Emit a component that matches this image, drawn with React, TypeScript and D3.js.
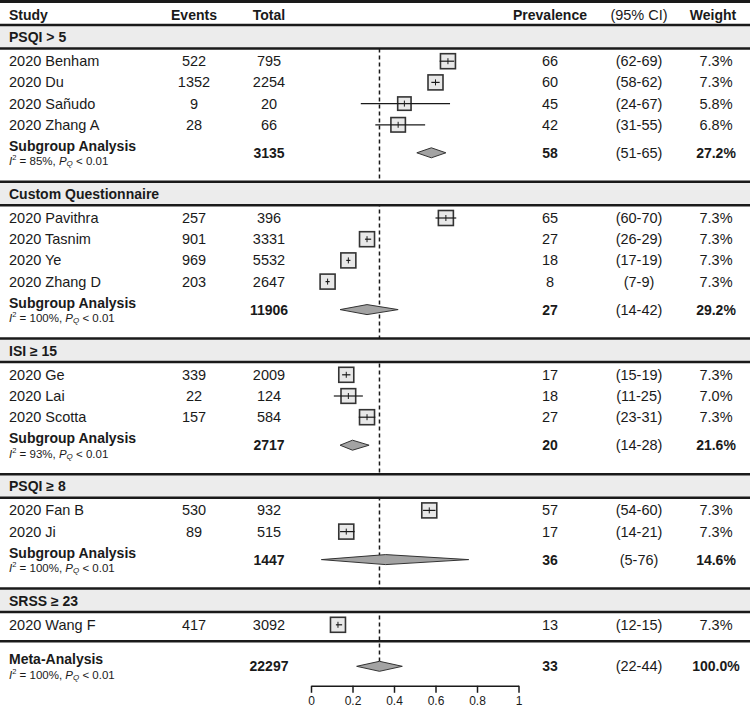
import React, { useEffect, useRef } from "react";
import * as d3 from "d3";

// data
const groupNames = ["PSQI > 5", "Custom Questionnaire", "ISI ≥ 15", "PSQI ≥ 8", "SRSS ≥ 23"];

const studyNames = [
  "2020 Benham", "2020 Du", "2020 Sañudo", "2020 Zhang A",
  "2020 Pavithra", "2020 Tasnim", "2020 Ye", "2020 Zhang D",
  "2020 Ge", "2020 Lai", "2020 Scotta",
  "2020 Fan B", "2020 Ji",
  "2020 Wang F",
];
const studyGroup = [0, 0, 0, 0, 1, 1, 1, 1, 2, 2, 2, 3, 3, 4];
const events = [522, 1352, 9, 28, 257, 901, 969, 203, 339, 22, 157, 530, 89, 417];
const totals = [795, 2254, 20, 66, 396, 3331, 5532, 2647, 2009, 124, 584, 932, 515, 3092];
const prevalence = [66, 60, 45, 42, 65, 27, 18, 8, 17, 18, 27, 57, 17, 13];
const ciLow = [62, 58, 24, 31, 60, 26, 17, 7, 15, 11, 23, 54, 14, 12];
const ciHigh = [69, 62, 67, 55, 70, 29, 19, 9, 19, 25, 31, 60, 21, 15];
const weights = [7.3, 7.3, 5.8, 6.8, 7.3, 7.3, 7.3, 7.3, 7.3, 7.0, 7.3, 7.3, 7.3, 7.3];

// subgroup summaries (null = no subgroup row)
const subTotals = [3135, 11906, 2717, 1447, null];
const subPrev = [58, 27, 20, 36, null];
const subLow = [51, 14, 14, 5, null];
const subHigh = [65, 42, 28, 76, null];
const subWeight = [27.2, 29.2, 21.6, 14.6, null];
const subI2 = [85, 100, 93, 100, null];

// overall
const metaTotal = 22297;
const metaPrev = 33;
const metaLow = 22;
const metaHigh = 44;
const metaWeight = 100.0;
const metaI2 = 100;

const axisTicks = [0, 0.2, 0.4, 0.6, 0.8, 1];

const W = 750;
const H = 708;
const FONT = "'Liberation Sans', Arial, Helvetica, sans-serif";
const INK = "#1a1a1a";

const col = { study: 9, events: 194, total: 269, prev: 550, ci: 639, weight: 716 };

const x = d3.scaleLinear().domain([0, 1]).range([311, 518.5]);
const boxSize = d3.scaleSqrt().domain([0, 7.3]).range([0, 15]);

function I2Text({ y, value }: { y: number; value: number }) {
  return (
    <text x={col.study} y={y} fontSize={11.5} dominantBaseline="central" fill={INK}>
      <tspan fontStyle="italic">I</tspan>
      <tspan fontSize={7.5} dy={-4}>2</tspan>
      <tspan dy={4}>{` = ${value}%, `}</tspan>
      <tspan fontStyle="italic">P</tspan>
      <tspan fontStyle="italic" fontSize={8} dy={2}>Q</tspan>
      <tspan dy={-2}>{" < 0.01"}</tspan>
    </text>
  );
}

function Diamond({ y, lo, mid, hi }: { y: number; lo: number; mid: number; hi: number }) {
  const h = 5;
  const pts = [
    [x(lo / 100), y],
    [x(mid / 100), y - h],
    [x(hi / 100), y],
    [x(mid / 100), y + h],
  ];
  return <polygon points={pts.map((p) => p.join(",")).join(" ")} fill="#a3a3a3" stroke="#333" strokeWidth={1} />;
}

function Axis({ y }: { y: number }) {
  const ref = useRef<SVGGElement>(null);
  useEffect(() => {
    const g = d3.select(ref.current);
    g.call(
      d3.axisBottom(x).tickValues(axisTicks).tickSize(7).tickSizeOuter(0).tickPadding(4).tickFormat(d3.format("~g") as any)
    );
    g.attr("font-size", 12).attr("font-family", FONT);
    g.select(".domain").attr("stroke", INK).attr("stroke-width", 1.5);
    g.selectAll(".tick line").attr("stroke", INK).attr("stroke-width", 1.5);
    g.selectAll(".tick text").attr("font-size", 12).attr("fill", INK);
  }, []);
  return <g ref={ref} transform={`translate(0,${y})`} />;
}

export default function App() {
  // vertical layout
  const bandH = 23.5;
  const firstRow = 12.7;
  const rowStep = 21.2;
  const subGap = 28;
  const bandGap = 29;

  const bands: { top: number; name: string }[] = [];
  const rowY: number[] = [];
  const subY: (number | null)[] = [];
  let cursor = 25;
  let lastBottom = 0;
  groupNames.forEach((name, gi) => {
    bands.push({ top: cursor, name });
    const y = cursor + bandH + firstRow;
    const idx = studyGroup.map((g, i) => (g === gi ? i : -1)).filter((i) => i >= 0);
    idx.forEach((i, k) => {
      rowY[i] = y + k * rowStep;
    });
    const last = rowY[idx[idx.length - 1]];
    if (subTotals[gi] !== null) {
      const sy = last + subGap;
      subY[gi] = sy;
      cursor = sy + bandGap;
    } else {
      subY[gi] = null;
      lastBottom = last + 16.5;
    }
  });
  const metaY = lastBottom + 25;
  const axisY = metaY + 19.5;

  const txt = (props: any, content: any) => (
    <text fontFamily={FONT} fill={INK} dominantBaseline="central" {...props}>
      {content}
    </text>
  );

  const pooledX = x(metaPrev / 100);

  return (
    <svg width={W} height={H} style={{ position: "absolute", left: 0, top: 0, background: "#fff" }} fontFamily={FONT}>
      {/* reference line */}
      <line x1={pooledX} x2={pooledX} y1={bands[0].top + bandH} y2={metaY} stroke={INK} strokeWidth={1.5} strokeDasharray="4,3" />

      {/* top rule and header */}
      <rect x={0} y={0} width={W} height={3} fill={INK} />
      {txt({ x: col.study, y: 15, fontSize: 14, fontWeight: "bold" }, "Study")}
      {txt({ x: col.events, y: 15, fontSize: 14, fontWeight: "bold", textAnchor: "middle" }, "Events")}
      {txt({ x: col.total, y: 15, fontSize: 14, fontWeight: "bold", textAnchor: "middle" }, "Total")}
      {txt({ x: col.prev, y: 15, fontSize: 14, fontWeight: "bold", textAnchor: "middle" }, "Prevalence")}
      {txt({ x: col.ci, y: 15, fontSize: 14.5, textAnchor: "middle" }, "(95% CI)")}
      {txt({ x: col.weight - 3, y: 15, fontSize: 14, fontWeight: "bold", textAnchor: "middle" }, "Weight")}

      {/* group bands */}
      {bands.map((b) => (
        <g key={b.name}>
          <rect x={0} y={b.top} width={W} height={bandH} fill="#ececec" />
          <line x1={0} x2={W} y1={b.top} y2={b.top} stroke={INK} strokeWidth={2.5} />
          <line x1={0} x2={W} y1={b.top + bandH} y2={b.top + bandH} stroke={INK} strokeWidth={2.5} />
          {txt({ x: col.study, y: b.top + bandH / 2 + 0.5, fontSize: 14, fontWeight: "bold" }, b.name)}
        </g>
      ))}

      {/* studies */}
      {studyNames.map((name, i) => {
        const y = rowY[i];
        const s = boxSize(weights[i]);
        const cx = x(prevalence[i] / 100);
        return (
          <g key={name}>
            {txt({ x: col.study, y, fontSize: 14.5 }, name)}
            {txt({ x: col.events, y, fontSize: 14.5, textAnchor: "middle" }, events[i])}
            {txt({ x: col.total, y, fontSize: 14.5, textAnchor: "middle" }, totals[i])}
            {txt({ x: col.prev, y, fontSize: 14.5, textAnchor: "middle" }, prevalence[i])}
            {txt({ x: col.ci, y, fontSize: 14.5, textAnchor: "middle" }, `(${ciLow[i]}-${ciHigh[i]})`)}
            {txt({ x: col.weight, y, fontSize: 14.5, textAnchor: "middle" }, `${weights[i].toFixed(1)}%`)}
            <rect x={cx - s / 2} y={y - s / 2} width={s} height={s} fill="#e8e8e8" stroke="#333" strokeWidth={1.6} />
            <line x1={x(ciLow[i] / 100)} x2={x(ciHigh[i] / 100)} y1={y} y2={y} stroke={INK} strokeWidth={1.2} />
            <line x1={cx} x2={cx} y1={y - 3} y2={y + 3} stroke={INK} strokeWidth={1} />
          </g>
        );
      })}

      {/* subgroup summaries */}
      {groupNames.map((g, gi) => {
        const y = subY[gi];
        if (y === null) return null;
        return (
          <g key={`sub-${g}`}>
            {txt({ x: col.study, y: y - 7, fontSize: 14, fontWeight: "bold" }, "Subgroup Analysis")}
            <I2Text y={y + 8.5} value={subI2[gi] as number} />
            {txt({ x: col.total, y, fontSize: 14, fontWeight: "bold", textAnchor: "middle" }, subTotals[gi])}
            {txt({ x: col.prev, y, fontSize: 14, fontWeight: "bold", textAnchor: "middle" }, subPrev[gi])}
            {txt({ x: col.ci, y, fontSize: 14.5, textAnchor: "middle" }, `(${subLow[gi]}-${subHigh[gi]})`)}
            {txt({ x: col.weight, y, fontSize: 14, fontWeight: "bold", textAnchor: "middle" }, `${(subWeight[gi] as number).toFixed(1)}%`)}
            <Diamond y={y} lo={subLow[gi] as number} mid={subPrev[gi] as number} hi={subHigh[gi] as number} />
          </g>
        );
      })}

      {/* overall */}
      <line x1={0} x2={W} y1={lastBottom} y2={lastBottom} stroke={INK} strokeWidth={2.5} />
      {txt({ x: col.study, y: metaY - 7, fontSize: 14, fontWeight: "bold" }, "Meta-Analysis")}
      <I2Text y={metaY + 8.5} value={metaI2} />
      {txt({ x: col.total, y: metaY, fontSize: 14, fontWeight: "bold", textAnchor: "middle" }, metaTotal)}
      {txt({ x: col.prev, y: metaY, fontSize: 14, fontWeight: "bold", textAnchor: "middle" }, metaPrev)}
      {txt({ x: col.ci, y: metaY, fontSize: 14.5, textAnchor: "middle" }, `(${metaLow}-${metaHigh})`)}
      {txt({ x: col.weight, y: metaY, fontSize: 14, fontWeight: "bold", textAnchor: "middle" }, `${metaWeight.toFixed(1)}%`)}
      <Diamond y={metaY} lo={metaLow} mid={metaPrev} hi={metaHigh} />

      <Axis y={axisY} />
    </svg>
  );
}
